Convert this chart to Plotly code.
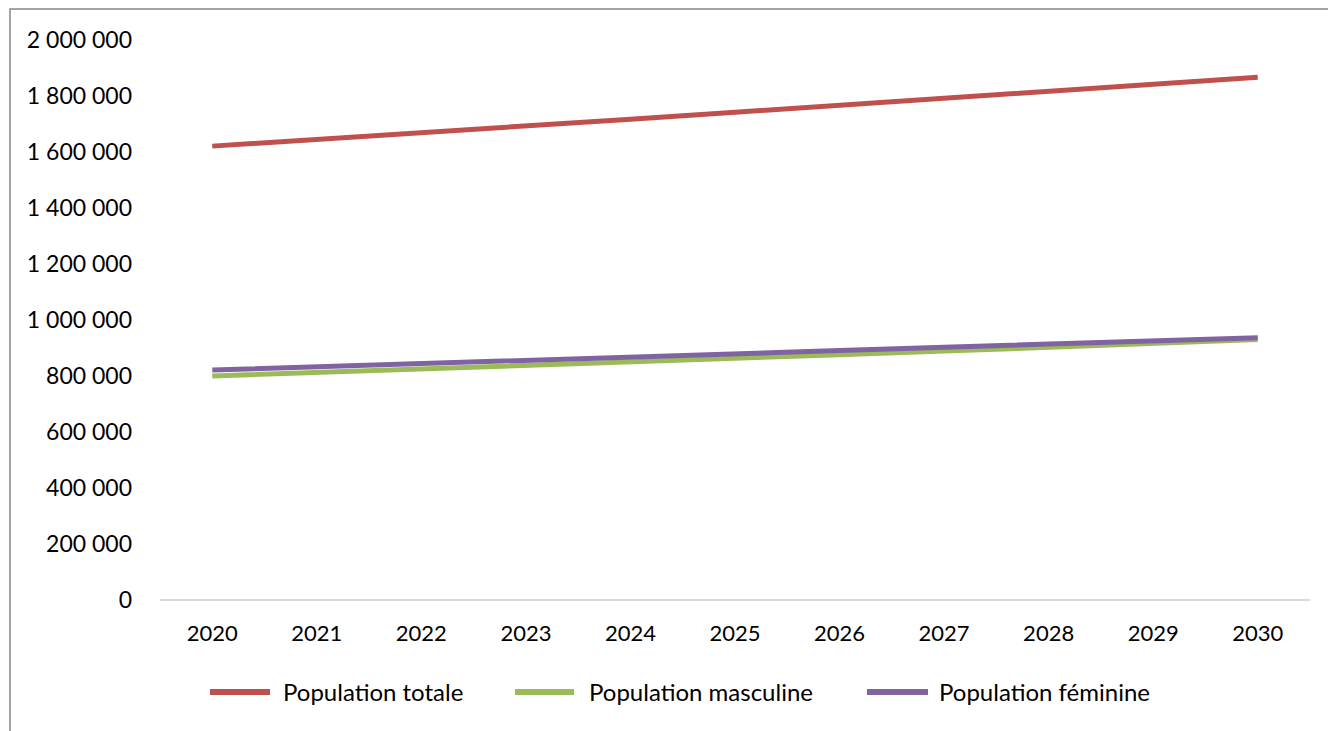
import plotly.graph_objects as go

years = ["2020", "2021", "2022", "2023", "2024", "2025", "2026", "2027", "2028", "2029", "2030"]
pop_totale = [1621000, 1644000, 1668000, 1692000, 1717000, 1742000, 1767000, 1792000, 1817000, 1842000, 1867000]
pop_masculine = [800000, 812000, 824000, 837000, 850000, 863000, 876000, 889000, 902000, 916000, 930000]
pop_feminine = [821000, 832000, 844000, 855000, 867000, 879000, 891000, 903000, 915000, 926000, 937000]
y_ticks = [0, 200000, 400000, 600000, 800000, 1000000, 1200000, 1400000, 1600000, 1800000, 2000000]

series = [
    ("Population totale", pop_totale, "#C0504D"),
    ("Population masculine", pop_masculine, "#9BBB59"),
    ("Population féminine", pop_feminine, "#8064A2"),
]

W, H = 1328, 731
L, R, T, B = 160, 18, 40, 131
pw, ph = W - L - R, H - T - B

def px(x):
    return (x - L) / pw

def py(y):
    return (H - B - y) / ph

fig = go.Figure()
for name, vals, col in series:
    fig.add_trace(go.Scatter(x=years, y=vals, name=name, mode="lines",
                             line=dict(color=col, width=5), showlegend=False))

# manual legend (long line symbols like the original)
legend_pos = [(210, 270, 281), (515, 574, 587), (867, 928, 937)]
shapes = [dict(type="rect", xref="paper", yref="paper",
               x0=px(10), x1=px(1345), y0=py(745), y1=py(9),
               line=dict(color="#868686", width=1.5), fillcolor="rgba(0,0,0,0)", layer="below")]
annotations = []
for (name, vals, col), (lx0, lx1, tx) in zip(series, legend_pos):
    shapes.append(dict(type="line", xref="paper", yref="paper",
                       x0=px(lx0), x1=px(lx1), y0=py(692), y1=py(692),
                       line=dict(color=col, width=6)))
    annotations.append(dict(text=name, xref="paper", yref="paper", x=px(tx), y=py(691),
                            xanchor="left", yanchor="middle", showarrow=False,
                            font=dict(size=24, color="#000000")))

fig.update_layout(
    width=W, height=H, autosize=False,
    margin=dict(l=L, r=R, t=T, b=B, pad=0),
    paper_bgcolor="white", plot_bgcolor="white",
    separators=", ",
    font=dict(family="Lato, Carlito, Calibri, sans-serif", size=22, color="#000000"),
    showlegend=False,
    xaxis=dict(type="category", range=[-0.5, 10.5], showgrid=False, showline=False,
               zeroline=False, ticks="", ticklabelstandoff=18, tickfont=dict(size=22)),
    yaxis=dict(range=[0, 2000000], tickvals=y_ticks, tickformat=",d", showgrid=False,
               zeroline=True, zerolinecolor="#D9D9D9", zerolinewidth=2,
               showline=False, ticks="", ticklabelstandoff=27, tickfont=dict(size=23)),
    shapes=shapes,
    annotations=annotations,
)

fig.write_html("out.html")
